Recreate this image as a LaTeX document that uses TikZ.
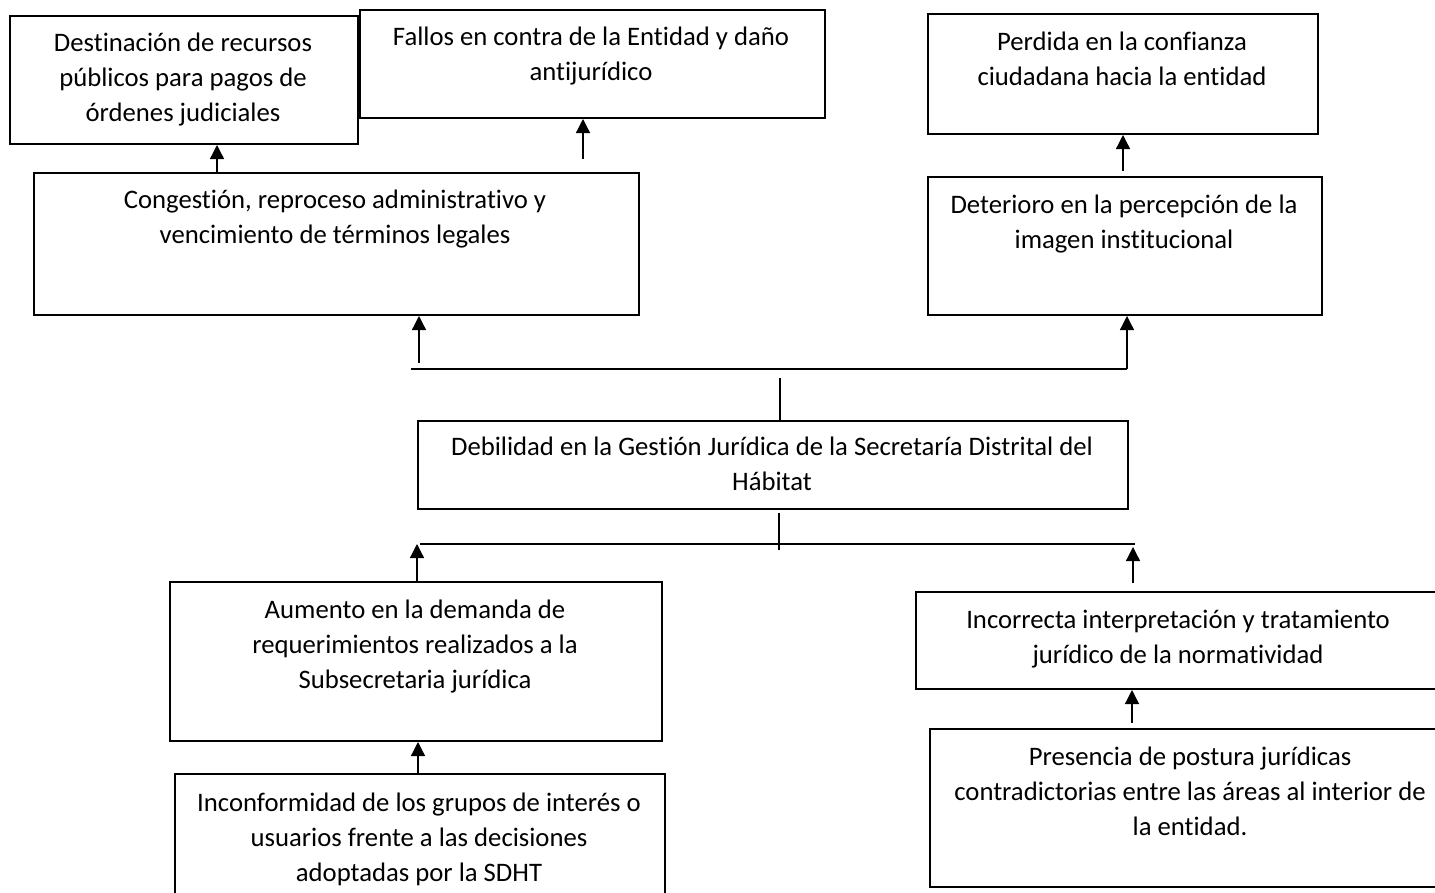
\documentclass[tikz,border=0pt]{standalone}
\usepackage{fontspec}
\setmainfont{Carlito}[Ligatures=NoCommon]
\usetikzlibrary{arrows.meta}
\newcommand\mybox[5]{%
  \node[boxst, anchor=north west, minimum width={#4-#2}, minimum height={#5-#3}] (#1) at (#2,#3) {};}
\begin{document}
\begin{tikzpicture}[x=1pt,y=-1pt,
  boxst/.style={draw, line width=2pt, inner sep=0pt, fill=white},
  txt/.style={align=center, inner sep=0pt, anchor=base, font=\fontsize{26.7}{35}\selectfont},
  conn/.style={line width=1.3pt},
  arr/.style={conn, -{Triangle[length=14pt,width=14pt]}}]
\useasboundingbox[fill=white] (0,0) rectangle (1435,892);

% boxes
\mybox{d1}{9}{15}{357}{143}
\mybox{d2}{359}{9}{824}{117}
\mybox{d3}{927}{13}{1317}{133}
\mybox{c1}{33}{172}{638}{314}
\mybox{c2}{927}{176}{1321}{314}
\mybox{p}{417}{420}{1127}{508}
\mybox{a1}{169}{581}{661}{740}
\mybox{a2}{915}{591}{1441}{688}
\mybox{b1}{174}{773}{664}{905}
\mybox{b2}{929}{728}{1451}{886}

% texts (anchor = baseline of the last line)
\node[txt] (d1t) at (183,121) {Destinación de recursos\\públicos para pagos de\\órdenes judiciales};
\node[txt] (d2t) at (591,80) {Fallos en contra de la Entidad y daño\\antijurídico};
\node[txt] (d3t) at (1122,85) {Perdida en la confianza\\ciudadana hacia la entidad};
\node[txt] (c1t) at (335,243) {Congestión, reproceso administrativo y\\vencimiento de términos legales};
\node[txt] (c2t) at (1124,248) {Deterioro en la percepción de la\\imagen institucional};
\node[txt] (pt) at (772,490) {Debilidad en la Gestión Jurídica de la Secretaría Distrital del\\Hábitat};
\node[txt] (a1t) at (415,688) {Aumento en la demanda de\\requerimientos realizados a la\\Subsecretaria jurídica};
\node[txt] (a2t) at (1178,663) {Incorrecta interpretación y tratamiento\\jurídico de la normatividad};
\node[txt] (b1t) at (419,881) {Inconformidad de los grupos de interés o\\usuarios frente a las decisiones\\adoptadas por la SDHT};
\node[txt] (b2t) at (1190,835) {Presencia de postura jurídicas\\contradictorias entre las áreas al interior de\\la entidad.};

% helper coordinates (free ends and junctions)
\coordinate (xa) at (217,0);
\coordinate (f0) at (583,159);
\coordinate (xd) at (1123,0);
\coordinate (ua) at (419,363);
\coordinate (uL) at (411,369);
\coordinate (uR) at (1127,369);
\coordinate (uc) at (780,378);
\coordinate (lc0) at (779,513);
\coordinate (lc1) at (779,550);
\coordinate (lL) at (420,544);
\coordinate (lR) at (1135,544);
\coordinate (xl) at (417,0);
\coordinate (rb) at (1133,583);
\coordinate (rt) at (1133,547);
\coordinate (pb) at (1132,723);
\coordinate (xb) at (418,0);

% connectors (effects)
\draw[arr] (c1.north -| xa) -- (d1.south -| xa);
\draw[arr] (f0) -- (d2.south -| f0);
\draw[arr] ([yshift=5pt]c2.north -| xd) -- (d3.south -| xd);
\draw[arr] (ua) -- (c1.south -| ua);
\draw[conn] (uL) -- (uR);
\draw[arr] (uR) -- (c2.south -| uR);
\draw[conn] (uc) -- (p.north -| uc);

% connectors (causes)
\draw[conn] (lc0) -- (lc1);
\draw[conn] (lL) -- (lR);
\draw[arr] (a1.north -| xl) -- (lL -| xl);
\draw[arr] (rb) -- (rt);
\draw[arr] (pb) -- (a2.south -| pb);
\draw[arr] (b1.north -| xb) -- (a1.south -| xb);
\end{tikzpicture}
\end{document}
